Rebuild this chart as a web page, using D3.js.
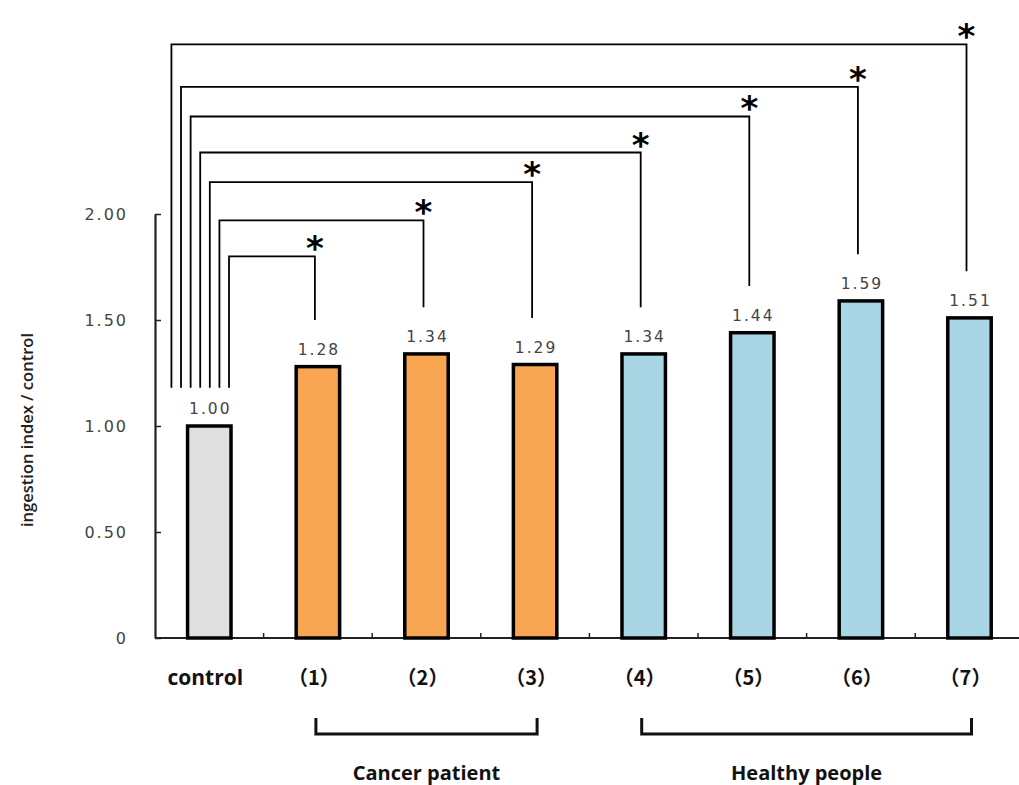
<!DOCTYPE html>
<html>
<head>
<meta charset="utf-8">
<script src="https://cdn.jsdelivr.net/npm/d3@7"></script>
<style>
  body { margin: 0; background: #fff; }
  svg { display: block; }
</style>
</head>
<body>
<div id="chart"></div>
<script>
// chart data
const categories = ["control", "(1)", "(2)", "(3)", "(4)", "(5)", "(6)", "(7)"];
const catLabels = ["control", "（1）", "（2）", "（3）", "（4）", "（5）", "（6）", "（7）"];
const values = [1.00, 1.28, 1.34, 1.29, 1.34, 1.44, 1.59, 1.51];
const groupOf = ["control", "cancer", "cancer", "cancer", "healthy", "healthy", "healthy", "healthy"];
const yTicks = [0, 0.5, 1.0, 1.5, 2.0];

// significance brackets: control vs each sample, level = height of the horizontal line
const sigTargets = ["(1)", "(2)", "(3)", "(4)", "(5)", "(6)", "(7)"];
const sigLevels = [1.80, 1.97, 2.15, 2.29, 2.46, 2.60, 2.80];
const sigMarks = ["*", "*", "*", "*", "*", "*", "*"];

const groups = [
  { name: "Cancer patient", from: "(1)", to: "(3)" },
  { name: "Healthy people", from: "(4)", to: "(7)" }
];

const colors = { control: "#e0e0e0", cancer: "#f9a653", healthy: "#a8d6e4" };

const W = 1019, H = 785;
const plotLeft = 155, plotTop = 214, plotBottom = 638;

const svg = d3.select("#chart").append("svg")
  .attr("width", W)
  .attr("height", H)
  .style("background", "#fff");

const x = d3.scaleBand()
  .domain(categories)
  .range([plotLeft, plotLeft + 8 * 108.6])
  .paddingInner(0.6)
  .paddingOuter(0.3);

const y = d3.scaleLinear().domain([0, 2]).range([plotBottom, plotTop]);

const cx = c => x(c) + x.bandwidth() / 2;

// y axis
const yAxis = svg.append("g")
  .attr("transform", `translate(${plotLeft},0)`)
  .call(d3.axisLeft(y)
    .tickValues(yTicks)
    .tickSize(-6)
    .tickSizeOuter(0)
    .tickPadding(27)
    .tickFormat(d => d === 0 ? "0" : d.toFixed(2)));
yAxis.select(".domain").attr("stroke", "#222").attr("stroke-width", 2.2);
yAxis.selectAll(".tick line").attr("stroke", "#222").attr("stroke-width", 1.5);
yAxis.selectAll(".tick text")
  .attr("font-family", "DejaVu Sans")
  .attr("font-size", 16)
  .attr("letter-spacing", 2)
  .attr("fill", "#444");

// x axis line with small ticks between bands
svg.append("line")
  .attr("x1", plotLeft).attr("x2", W)
  .attr("y1", plotBottom).attr("y2", plotBottom)
  .attr("stroke", "#222").attr("stroke-width", 2.2);
svg.append("g").selectAll("line")
  .data(categories.slice(1))
  .join("line")
  .attr("x1", d => x(d) - x.step() * x.paddingInner() / 2)
  .attr("x2", d => x(d) - x.step() * x.paddingInner() / 2)
  .attr("y1", plotBottom).attr("y2", plotBottom - 5)
  .attr("stroke", "#222").attr("stroke-width", 1.5);

// y axis title
svg.append("text")
  .attr("transform", `translate(33,${(plotTop + plotBottom) / 2 + 4}) rotate(-90)`)
  .attr("text-anchor", "middle")
  .attr("font-family", "Open Sans")
  .attr("font-weight", 600)
  .attr("font-size", 17)
  .attr("textLength", 194)
  .attr("lengthAdjust", "spacingAndGlyphs")
  .attr("fill", "#222")
  .text("ingestion index / control");

// bars
svg.append("g").selectAll("rect")
  .data(categories)
  .join("rect")
  .attr("x", d => x(d))
  .attr("y", (d, i) => y(values[i]))
  .attr("width", x.bandwidth())
  .attr("height", (d, i) => y(0) - y(values[i]))
  .attr("fill", (d, i) => colors[groupOf[i]])
  .attr("stroke", "#000")
  .attr("stroke-width", 3.5);

// value labels
svg.append("g").selectAll("text")
  .data(categories)
  .join("text")
  .attr("x", d => cx(d) + 1)
  .attr("y", (d, i) => y(values[i]) - 12)
  .attr("text-anchor", "middle")
  .attr("font-family", "DejaVu Sans")
  .attr("font-size", 15.5)
  .attr("letter-spacing", 2)
  .attr("fill", "#444")
  .text((d, i) => values[i].toFixed(2));

// category labels
svg.append("g").selectAll("text")
  .data(categories)
  .join("text")
  .attr("x", d => cx(d) - 4)
  .attr("y", 685)
  .attr("text-anchor", "middle")
  .attr("font-family", (d, i) => i === 0 ? "Open Sans" : "Noto Sans CJK JP")
  .attr("font-weight", 700)
  .attr("font-size", (d, i) => i === 0 ? 21 : 20)
  .attr("fill", "#111")
  .text((d, i) => catLabels[i]);

// significance brackets
const sig = svg.append("g")
  .attr("fill", "none")
  .attr("stroke", "#000")
  .attr("stroke-width", 1.8);
const leftEdge = x("control") + x.bandwidth() - 2;
const lowLevel = 1.18;
sigTargets.forEach((t, i) => {
  const lx = leftEdge - i * 9.6;
  const rx = cx(t) - 3;
  const vi = categories.indexOf(t);
  const yTop = y(sigLevels[i]);
  sig.append("path")
    .attr("d", `M${lx},${y(lowLevel)}V${yTop}H${rx}V${y(values[vi] + 0.22)}`);
  svg.append("text")
    .attr("x", rx)
    .attr("y", yTop + 4)
    .attr("text-anchor", "middle")
    .attr("font-family", "DejaVu Sans")
    .attr("font-weight", 700)
    .attr("font-size", 34)
    .attr("fill", "#000")
    .text(sigMarks[i]);
});

// group brackets
const gb = svg.append("g");
groups.forEach(g => {
  const x0 = cx(g.from) - 2, x1 = cx(g.to) + 2;
  gb.append("path")
    .attr("d", `M${x0},718V734H${x1}V718`)
    .attr("fill", "none")
    .attr("stroke", "#111")
    .attr("stroke-width", 3);
  gb.append("text")
    .attr("x", (x0 + x1) / 2)
    .attr("y", 780)
    .attr("text-anchor", "middle")
    .attr("font-family", "Open Sans")
    .attr("font-weight", 700)
    .attr("font-size", 20)
    .attr("fill", "#111")
    .text(g.name);
});
</script>
</body>
</html>
